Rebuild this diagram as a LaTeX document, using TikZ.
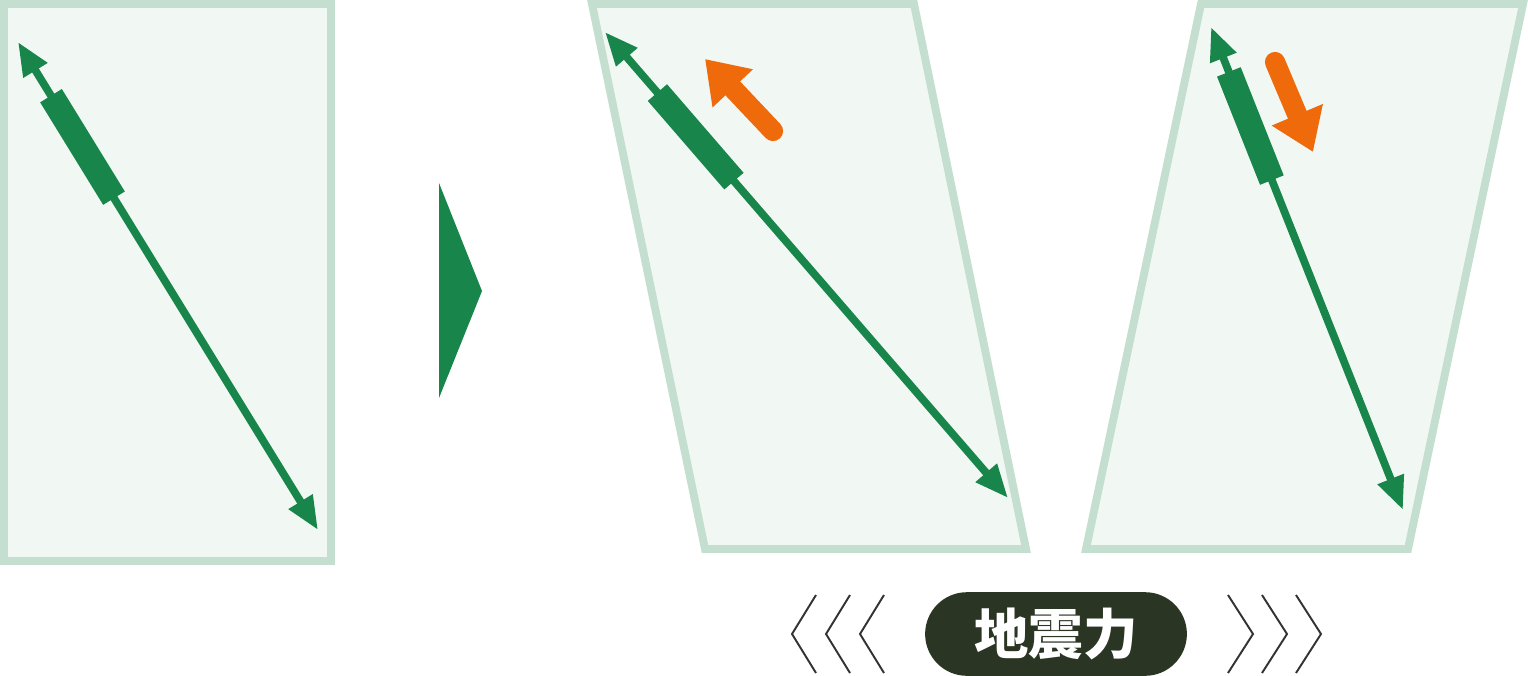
\documentclass[tikz,border=0pt]{standalone}
\usepackage{fontspec}
\newfontfamily\jpfont{Noto Sans CJK JP}
\usetikzlibrary{positioning,calc,arrows.meta}
\definecolor{bracegreen}{HTML}{18864B}
\definecolor{panelline}{HTML}{C4DFD0}
\definecolor{panelfill}{HTML}{F1F8F4}
\definecolor{forceorange}{HTML}{EE6A0B}
\definecolor{labeldark}{HTML}{2B3524}
\definecolor{chevron}{HTML}{333333}

\begin{document}
\begin{tikzpicture}
    [x=0.02cm, y=-0.02cm,
    panel/.style={draw=panelline, fill=panelfill, line width=4.5pt, line join=miter},
    member/.style={draw=bracegreen, line width=4.4pt,
        {Triangle[length=19pt,width=15pt]}-{Triangle[length=19pt,width=15pt]}},
    damper/.style={draw=bracegreen, line width=14.5pt},
    force/.style={draw=forceorange, line width=11.5pt, line cap=round,
        -{Triangle[length=23pt,width=30pt]}},
    % label/.style={draw=labeldark, thick},
    pill/.style={fill=labeldark, text=white, rounded corners=23.8pt,
        minimum width=149pt, minimum height=47.6pt, inner sep=0pt}]
    \useasboundingbox (0,0) rectangle (1528,676);

    % frames: at rest, pushed left, pushed right
    \draw [panel] (4,4) rectangle (331,561);
    \draw [panel] (592,4) -- (914,4) -- (1026,549) -- (705,549) -- cycle;
    \draw [panel] (1201,4) -- (1523,4) -- (1408,549) -- (1086,549) -- cycle;

    % brace ends
    \coordinate (top1) at (18,42);
    \coordinate (bot1) at (318,530);
    \coordinate (top2) at (605,32);
    \coordinate (bot2) at (1008,498);
    \coordinate (top3) at (1211,27);
    \coordinate (bot3) at (1403,510);

    \draw [member] (top1) -- (bot1);
    \draw [damper] ($(top1)!0.11!(bot1)$) -- ($(top1)!0.32!(bot1)$);
    \draw [member] (top2) -- (bot2);
    \draw [damper] ($(top2)!0.13!(bot2)$) -- ($(top2)!0.32!(bot2)$);
    \draw [member] (top3) -- (bot3);
    \draw [damper] ($(top3)!0.093!(bot3)$) -- ($(top3)!0.317!(bot3)$);

    % step marker
    \fill [bracegreen] (439,183) -- (482,291) -- (439,398) -- cycle;

    % forces
    \coordinate (pullfrom) at (773,131);
    \coordinate (pullto) at (705,59);
    \coordinate (pushfrom) at (1275,62);
    \coordinate (pushto) at (1313,152);
    \draw [force] (pullfrom) -- (pullto);
    \draw [force] (pushfrom) -- (pushto);

    % earthquake label
    \node [pill] (quake) at (1056,634)
        {\jpfont\bfseries\fontsize{31}{31}\selectfont 地震力};
    \foreach \x in {792,826,860}
        \draw [chevron, line width=1.1pt] (\x+24,595) -- (\x,634) -- (\x+24,673);
    \foreach \x in {1228,1262,1296}
        \draw [chevron, line width=1.1pt] (\x,595) -- (\x+25,634) -- (\x,673);
\end{tikzpicture}
\end{document}
